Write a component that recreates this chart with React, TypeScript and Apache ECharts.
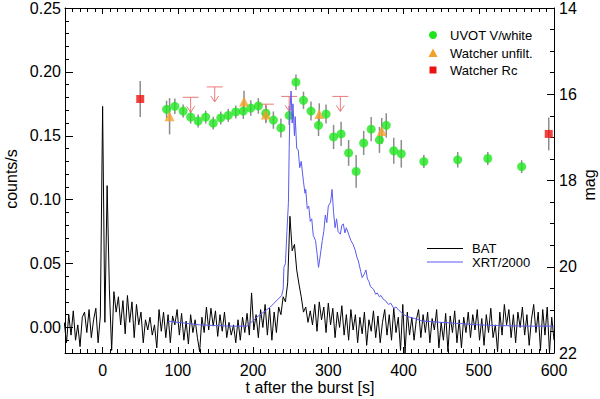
import React, { useEffect, useRef } from "react";
import * as echarts from "echarts";

// ---- BAT light curve (3 s bins starting at t = -51 s), counts/s ----
const BAT_T0 = -51;
const BAT_DT = 3;
const BAT_COUNTS = [
  0.004, -0.012, 0.010, -0.006, 0.013, -0.010, 0.002, -0.015, 0.008, 0.012, -0.004, 0.014, -0.008, 0.006, 0.015, -0.012, 0.009,
  0.173, 0.004, 0.111, 0.030, -0.018, 0.028, 0.012, 0.024, 0.002, 0.021, -0.005, 0.025, 0.004, 0.020, -0.008, 0.018, 0.002,
  0.012, -0.012, 0.006, -0.002, 0.008, -0.006, 0.002, -0.016, 0.014, -0.003, 0.012, -0.008, 0.010, -0.012, 0.009, 0.002,
  0.014, -0.006, 0.011, -0.010, 0.005, -0.013, 0.010, -0.004, 0.006, -0.008, -0.019, 0.008, -0.004, 0.016, -0.002, 0.015,
  0.001, 0.013, -0.007, 0.010, -0.003, 0.012, -0.008, 0.004, -0.006, 0.002, -0.012, 0.006, -0.010, 0.008, -0.004, 0.011,
  -0.006, 0.027, -0.002, 0.010, -0.008, 0.014, 0.000, 0.018, -0.006, 0.015, -0.010, 0.012, -0.004, 0.016, 0.010, 0.024,
  0.020, 0.035, 0.087, 0.060, 0.065, 0.045, 0.034, 0.024, 0.012, 0.016, 0.004, 0.013, 0.002, 0.018, -0.003, 0.020,
  0.006, 0.016, -0.004, 0.019, 0.002, 0.015, -0.008, 0.012, 0.000, 0.017, -0.006, 0.010, -0.010, 0.014, -0.002, 0.010,
  -0.012, 0.008, -0.005, 0.012, -0.014, 0.006, -0.003, 0.013, -0.008, 0.009, -0.012, 0.004, 0.014, -0.006, 0.010, -0.010,
  0.015, -0.004, 0.008, -0.018, 0.018, -0.020, 0.012, -0.006, 0.008, -0.010, 0.006, 0.014, -0.008, 0.010, -0.004, 0.012,
  -0.012, 0.007, -0.002, 0.014, -0.016, 0.004, -0.010, 0.011, -0.019, 0.009, -0.004, 0.013, -0.012, 0.006, -0.016, 0.008,
  -0.004, 0.012, -0.008, 0.010, -0.002, 0.014, -0.010, 0.007, -0.014, 0.010, -0.004, 0.015, -0.008, 0.002, -0.019, 0.012,
  -0.006, 0.018, 0.002, 0.014, -0.008, 0.010, -0.012, 0.012, 0.000, 0.016, -0.006, 0.010, -0.014, 0.006, 0.018, -0.004,
  0.012, -0.018, 0.014, -0.006, 0.016, -0.020, 0.008, -0.010,
];

// ---- XRT light curve / 2000: [t, counts/s] ----
const XRT_POINTS: [number, number][] = [
  [87, 0.005], [100, 0.004], [115, 0.003], [129, 0.002], [150, 0.0015], [173, 0.001], [192, 0.001], [205, 0.008],
  [223, 0.016], [238, 0.025], [240, 0.03], [241, 0.047], [243, 0.05], [245, 0.075], [247, 0.098], [248, 0.14],
  [249, 0.17], [250.5, 0.185], [252, 0.16], [253, 0.175], [255, 0.15], [256, 0.165], [258, 0.14], [260, 0.139],
  [262, 0.125], [264, 0.13], [267, 0.114], [269, 0.105], [270, 0.108], [272, 0.093], [274, 0.095], [276, 0.083],
  [278, 0.085], [280, 0.072], [283, 0.068], [285, 0.058], [287, 0.047], [289, 0.055], [292, 0.068], [294, 0.075],
  [296, 0.088], [298, 0.082], [300, 0.095], [303, 0.098], [305, 0.108], [307, 0.09], [309, 0.078], [311, 0.085],
  [313, 0.075], [316, 0.073], [318, 0.08], [320, 0.081], [322, 0.074], [324, 0.078], [327, 0.073], [330, 0.068],
  [333, 0.065], [336, 0.06], [338, 0.055], [340, 0.052], [343, 0.044], [345, 0.039], [348, 0.042], [350, 0.045],
  [352, 0.038], [354, 0.036], [356, 0.032], [360, 0.03], [363, 0.026], [365, 0.027], [368, 0.024], [370, 0.025],
  [373, 0.022], [376, 0.021], [380, 0.018], [383, 0.019], [387, 0.015], [390, 0.016], [393, 0.014], [398, 0.011],
  [405, 0.0085], [415, 0.007], [425, 0.005], [436, 0.0046], [450, 0.004], [476, 0.003], [500, 0.002], [525, 0.0015],
  [560, 0.001], [600, 0.001],
];

// ---- Optical photometry (mag): time, magnitude, error ----
const UVOT_T = [85, 96, 107, 117, 127, 137, 147, 157, 167, 177, 187, 197, 207, 217, 227, 237, 248, 257, 267, 277, 287, 297, 307, 317, 327, 337, 347, 357, 368, 377, 387, 397, 427, 472, 512, 557];
const UVOT_MAG = [16.35, 16.28, 16.39, 16.53, 16.62, 16.53, 16.67, 16.55, 16.49, 16.41, 16.39, 16.32, 16.27, 16.44, 16.6, 16.78, 16.49, 15.72, 16.14, 16.39, 16.72, 16.46, 16.99, 16.92, 17.36, 17.79, 17.13, 16.81, 17.06, 16.72, 17.31, 17.38, 17.56, 17.52, 17.49, 17.68];
const UVOT_ERR = [0.2, 0.18, 0.15, 0.15, 0.15, 0.15, 0.15, 0.15, 0.15, 0.15, 0.18, 0.18, 0.18, 0.2, 0.2, 0.22, 0.22, 0.18, 0.2, 0.22, 0.25, 0.22, 0.28, 0.28, 0.3, 0.38, 0.28, 0.28, 0.3, 0.28, 0.3, 0.32, 0.15, 0.18, 0.15, 0.15];

const WU_T = [89, 188, 217, 288, 371];
const WU_MAG = [16.51, 16.17, 16.47, 16.46, 16.85];
const WU_ERR = [0.42, 0.25, 0.2, 0.25, 0.3];

const WRC_T = [50, 593];
const WRC_MAG = [16.11, 16.92];
const WRC_ERR = [0.42, 0.38];

const UL_T = [117, 149, 217, 248, 316];
const UL_MAG = [16.07, 15.83, 16.23, 16.05, 16.05];

// ---- Axis ticks ----
const X_MAJOR = [0, 100, 200, 300, 400, 500, 600];
const Y_MAJOR = [0, 0.05, 0.1, 0.15, 0.2, 0.25];

const FONT = "Liberation Sans, Arial, Helvetica, sans-serif";
const GREEN = "#1ee61e";
const ORANGE = "#f2a12a";
const RED = "#ee1111";
const BLUE = "#5b5bef";
const UL_COLOR = "#ec7a7a";
const ERR_COLOR = "#8c8c8c";

export default function App() {
  const ref = useRef<HTMLDivElement>(null);

  useEffect(() => {
    document.body.style.margin = "0";
    const chart = echarts.init(ref.current!, undefined, { renderer: "svg" });

    const batData = BAT_COUNTS.map((v, i) => [BAT_T0 + i * BAT_DT, v]);
    const errData: number[][] = [];
    UVOT_T.forEach((t, i) => errData.push([t, UVOT_MAG[i] - UVOT_ERR[i], UVOT_MAG[i] + UVOT_ERR[i]]));
    WU_T.forEach((t, i) => errData.push([t, WU_MAG[i] - WU_ERR[i], WU_MAG[i] + WU_ERR[i]]));
    WRC_T.forEach((t, i) => errData.push([t, WRC_MAG[i] - WRC_ERR[i], WRC_MAG[i] + WRC_ERR[i]]));

    const xCommon = {
      type: "value",
      min: -50,
      max: 600,
      gridIndex: 0,
      splitLine: { show: false },
    };

    const legendText = (text: string, x: number, y: number) => ({
      type: "text",
      x,
      y,
      style: { text, font: `13px ${FONT}`, lineHeight: 12, fill: "#000", textVerticalAlign: "middle" },
    });

    const option: any = {
      animation: false,
      grid: { left: 65, right: 46, top: 5, bottom: 46, containLabel: false },
      xAxis: [
        {
          ...xCommon,
          position: "bottom",
          axisLine: { show: true, onZero: false, lineStyle: { color: "#000", width: 1 } },
          axisTick: { show: true, inside: true, length: 6, customValues: X_MAJOR, lineStyle: { color: "#000" } },
          axisLabel: { show: true, customValues: X_MAJOR, margin: 9, color: "#000", fontSize: 16, fontFamily: FONT, formatter: (v: number) => String(v) },
        },
        {
          ...xCommon,
          position: "bottom",
          interval: 10,
          axisLine: { show: false, onZero: false },
          axisTick: { show: true, inside: true, length: 4, lineStyle: { color: "#000" } },
          axisLabel: { show: false },
        },
        {
          ...xCommon,
          position: "top",
          axisLine: { show: true, onZero: false, lineStyle: { color: "#000", width: 1 } },
          axisTick: { show: true, inside: true, length: 6, customValues: X_MAJOR, lineStyle: { color: "#000" } },
          axisLabel: { show: false },
        },
        {
          ...xCommon,
          position: "top",
          interval: 10,
          axisLine: { show: false, onZero: false },
          axisTick: { show: true, inside: true, length: 4, lineStyle: { color: "#000" } },
          axisLabel: { show: false },
        },
      ],
      yAxis: [
        {
          type: "value",
          min: -0.02,
          max: 0.25,
          position: "left",
          splitLine: { show: false },
          axisLine: { show: true, onZero: false, lineStyle: { color: "#000", width: 1 } },
          axisTick: { show: true, inside: true, length: 8, customValues: Y_MAJOR, lineStyle: { color: "#000" } },
          axisLabel: { show: true, customValues: Y_MAJOR, margin: 4, color: "#000", fontSize: 16, fontFamily: FONT, formatter: (v: number) => v.toFixed(2) },
        },
        {
          type: "value",
          min: -0.02,
          max: 0.25,
          interval: 0.01,
          position: "left",
          splitLine: { show: false },
          axisLine: { show: false, onZero: false },
          axisTick: { show: true, inside: true, length: 4, lineStyle: { color: "#000" } },
          axisLabel: { show: false },
        },
        {
          type: "value",
          min: 14,
          max: 22,
          interval: 2,
          inverse: true,
          position: "right",
          splitLine: { show: false },
          axisLine: { show: true, onZero: false, lineStyle: { color: "#000", width: 1 } },
          axisTick: { show: true, inside: true, length: 7, lineStyle: { color: "#000" } },
          minorTick: { show: true, splitNumber: 4, length: 4, lineStyle: { color: "#000" } },
          minorSplitLine: { show: false },
          axisLabel: { show: true, margin: 5, color: "#000", fontSize: 16, fontFamily: FONT },
        },
      ],
      graphic: [
        { type: "text", x: 11, y: 179, rotation: Math.PI / 2, style: { text: "counts/s", font: `16px ${FONT}`, fill: "#000", textAlign: "center", textVerticalAlign: "middle" } },
        { type: "text", x: 589, y: 185, rotation: Math.PI / 2, style: { text: "mag", font: `16px ${FONT}`, fill: "#000", textAlign: "center", textVerticalAlign: "middle" } },
        { type: "text", x: 310, y: 387, style: { text: "t after the burst [s]", font: `16px ${FONT}`, fill: "#000", textAlign: "center", textVerticalAlign: "middle" } },
        { type: "circle", shape: { cx: 433, cy: 35, r: 4 }, style: { fill: GREEN } },
        { type: "polygon", shape: { points: [[433, 48.5], [437.5, 57], [428.5, 57]] }, style: { fill: ORANGE } },
        { type: "rect", shape: { x: 429.5, y: 66.5, width: 7, height: 7 }, style: { fill: RED } },
        legendText("UVOT V/white", 450, 35),
        legendText("Watcher unfilt.", 450, 53),
        legendText("Watcher Rc", 450, 70),
        { type: "line", shape: { x1: 427, y1: 248.5, x2: 463, y2: 248.5 }, style: { stroke: "#000", lineWidth: 1 } },
        { type: "line", shape: { x1: 427, y1: 262, x2: 463, y2: 262 }, style: { stroke: BLUE, lineWidth: 1 } },
        legendText("BAT", 472, 248.5),
        legendText("XRT/2000", 472, 262),
      ],
      series: [
        {
          type: "custom",
          name: "errors",
          xAxisIndex: 0,
          yAxisIndex: 2,
          data: errData,
          z: 2,
          renderItem: (_p: any, api: any) => {
            const a = api.coord([api.value(0), api.value(1)]);
            const b = api.coord([api.value(0), api.value(2)]);
            return { type: "line", shape: { x1: a[0], y1: a[1], x2: b[0], y2: b[1] }, style: { stroke: ERR_COLOR, lineWidth: 1.5 } };
          },
        },
        {
          type: "custom",
          name: "upper limits",
          xAxisIndex: 0,
          yAxisIndex: 2,
          data: UL_T.map((t, i) => [t, UL_MAG[i]]),
          z: 3,
          renderItem: (_p: any, api: any) => {
            const p = api.coord([api.value(0), api.value(1)]);
            const tip = p[1] + 15;
            const st = { stroke: UL_COLOR, lineWidth: 1, fill: "none" };
            return {
              type: "group",
              children: [
                { type: "line", shape: { x1: p[0] - 8, y1: p[1], x2: p[0] + 8, y2: p[1] }, style: st },
                { type: "line", shape: { x1: p[0], y1: p[1], x2: p[0], y2: tip }, style: st },
                { type: "polyline", shape: { points: [[p[0] - 4, tip - 6], [p[0], tip], [p[0] + 4, tip - 6]] }, style: st },
              ],
            };
          },
        },
        {
          type: "scatter",
          name: "UVOT V/white",
          xAxisIndex: 0,
          yAxisIndex: 2,
          symbol: "circle",
          symbolSize: 9,
          itemStyle: { color: GREEN },
          data: UVOT_T.map((t, i) => [t, UVOT_MAG[i]]),
          z: 4,
        },
        {
          type: "scatter",
          name: "Watcher unfilt.",
          xAxisIndex: 0,
          yAxisIndex: 2,
          symbol: "triangle",
          symbolSize: 10,
          itemStyle: { color: ORANGE },
          data: WU_T.map((t, i) => [t, WU_MAG[i]]),
          z: 4,
        },
        {
          type: "scatter",
          name: "Watcher Rc",
          xAxisIndex: 0,
          yAxisIndex: 2,
          symbol: "rect",
          symbolSize: 8,
          itemStyle: { color: RED },
          data: WRC_T.map((t, i) => [t, WRC_MAG[i]]),
          z: 4,
        },
        {
          type: "line",
          name: "BAT",
          xAxisIndex: 0,
          yAxisIndex: 0,
          data: batData,
          symbol: "none",
          lineStyle: { color: "#000", width: 1 },
          clip: true,
          z: 5,
        },
        {
          type: "line",
          name: "XRT/2000",
          xAxisIndex: 0,
          yAxisIndex: 0,
          data: XRT_POINTS,
          symbol: "none",
          lineStyle: { color: BLUE, width: 1 },
          clip: true,
          z: 6,
        },
      ],
    };

    chart.setOption(option);
    return () => chart.dispose();
  }, []);

  return <div ref={ref} style={{ position: "absolute", left: 0, top: 0, width: 600, height: 399, background: "#fff" }} />;
}
